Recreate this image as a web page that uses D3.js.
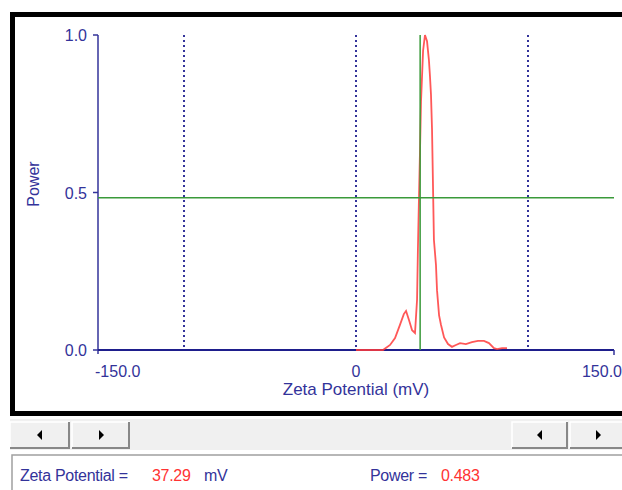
<!DOCTYPE html>
<html>
<head>
<meta charset="utf-8">
<script src="https://cdn.jsdelivr.net/npm/d3@7"></script>
<style>
  body { margin: 0; background: #fff; font-family: "Liberation Sans", Arial, sans-serif; }
  svg { display: block; }
</style>
</head>
<body>
<div id="plot"></div>
<script>
// zeta potential distribution (mV vs relative power)
var zetaMv = [0, 15.7, 19.8, 22.7, 25.5, 27.8, 29.1, 30.8, 32.6, 34.3, 35.5, 36.0, 36.6, 37.2, 37.8, 39.0, 40.1, 41.3, 42.4, 43.0, 43.6, 44.2, 44.8, 45.3, 46.5, 47.1, 48.3, 49.4, 51.2, 53.5, 55.8, 58.1, 60.5, 63.9, 67.4, 70.9, 74.4, 77.3, 80.2, 82.0, 84.9, 87.8];
var power = [0, 0, 0.016, 0.038, 0.079, 0.114, 0.124, 0.095, 0.063, 0.054, 0.16, 0.32, 0.48, 0.63, 0.79, 0.95, 1.0, 0.98, 0.92, 0.87, 0.81, 0.70, 0.51, 0.35, 0.27, 0.19, 0.11, 0.08, 0.04, 0.019, 0.01, 0.016, 0.022, 0.019, 0.025, 0.029, 0.029, 0.022, 0.006, 0.003, 0.006, 0.006];

var xTicks = [-150, 0, 150];
var xTickLabels = ["-150.0", "0", "150.0"];
var yTicks = [0, 0.5, 1.0];
var yTickLabels = ["0.0", "0.5", "1.0"];
var gridX = [-100, 0, 100];

var cursorMv = 37.29;
var cursorPower = 0.483;

var navy = "#33339a";
var W = 622, H = 490;

var svg = d3.select("#plot").append("svg")
  .attr("width", W)
  .attr("height", H);

// outer frame
svg.append("rect")
  .attr("x", 12.5).attr("y", 14.5)
  .attr("width", 620).attr("height", 399)
  .attr("fill", "#fff")
  .attr("stroke", "#000")
  .attr("stroke-width", 5);

var x = d3.scaleLinear().domain([-150, 150]).range([98, 614]);
var y = d3.scaleLinear().domain([0, 1]).range([350, 35]);

// dotted grid
svg.selectAll(".grid")
  .data(gridX)
  .join("line")
  .attr("class", "grid")
  .attr("x1", d => x(d)).attr("x2", d => x(d))
  .attr("y1", y(1)).attr("y2", y(0))
  .attr("stroke", navy)
  .attr("stroke-width", 2)
  .attr("stroke-dasharray", "2,3");

// axes
svg.append("line")
  .attr("x1", x(-150)).attr("x2", x(-150))
  .attr("y1", y(1)).attr("y2", y(0) + 4)
  .attr("stroke", navy).attr("stroke-width", 1.5);
svg.append("line")
  .attr("x1", x(-150)).attr("x2", x(150))
  .attr("y1", y(0)).attr("y2", y(0))
  .attr("stroke", "#1e1e8c").attr("stroke-width", 2);

svg.selectAll(".ytick")
  .data(yTicks)
  .join("line")
  .attr("class", "ytick")
  .attr("x1", x(-150) - 5).attr("x2", x(-150))
  .attr("y1", d => y(d)).attr("y2", d => y(d))
  .attr("stroke", navy).attr("stroke-width", 1.5);

svg.append("line")
  .attr("x1", x(150)).attr("x2", x(150))
  .attr("y1", y(0)).attr("y2", y(0) + 5)
  .attr("stroke", navy).attr("stroke-width", 1.5);

svg.selectAll(".ylab")
  .data(yTicks)
  .join("text")
  .attr("class", "ylab")
  .attr("x", x(-150) - 11)
  .attr("y", d => y(d) + 6)
  .attr("text-anchor", "end")
  .attr("font-size", 16)
  .attr("fill", navy)
  .text((d, i) => yTickLabels[i]);

svg.selectAll(".xlab")
  .data(xTicks)
  .join("text")
  .attr("class", "xlab")
  .attr("x", (d, i) => i == 0 ? x(d) - 3 : (i == 2 ? x(d) + 8 : x(d)))
  .attr("y", 377)
  .attr("text-anchor", (d, i) => i == 0 ? "start" : (i == 2 ? "end" : "middle"))
  .attr("font-size", 16)
  .attr("fill", navy)
  .text((d, i) => xTickLabels[i]);

svg.append("text")
  .attr("x", x(0))
  .attr("y", 395)
  .attr("text-anchor", "middle")
  .attr("font-size", 17)
  .attr("fill", navy)
  .text("Zeta Potential (mV)");

svg.append("text")
  .attr("transform", "translate(39,184) rotate(-90)")
  .attr("text-anchor", "middle")
  .attr("font-size", 16)
  .attr("fill", navy)
  .text("Power");

// curve
var line = d3.line()
  .x((d, i) => x(zetaMv[i]))
  .y(d => y(d));

svg.append("path")
  .datum(power)
  .attr("d", line)
  .attr("fill", "none")
  .attr("stroke", "#ff3b3b")
  .attr("stroke-opacity", 0.85)
  .attr("stroke-width", 1.8);

// cursor cross
svg.append("line")
  .attr("x1", x(cursorMv)).attr("x2", x(cursorMv))
  .attr("y1", y(1)).attr("y2", y(0))
  .attr("stroke", "#3a9a3a").attr("stroke-width", 1.5);
svg.append("line")
  .attr("x1", x(-150)).attr("x2", x(150))
  .attr("y1", y(cursorPower)).attr("y2", y(cursorPower))
  .attr("stroke", "#3a9a3a").attr("stroke-width", 1.5);

// scroll bar row
svg.append("rect")
  .attr("x", 10).attr("y", 419)
  .attr("width", 612).attr("height", 31)
  .attr("fill", "#f0f0f0");

var buttons = [
  {x: 10, w: 60, dir: -1},
  {x: 72, w: 58, dir: 1},
  {x: 512, w: 56, dir: -1},
  {x: 570, w: 56, dir: 1}
];
var btn = svg.selectAll(".btn")
  .data(buttons)
  .join("g")
  .attr("class", "btn")
  .attr("transform", d => `translate(${d.x},422)`);
btn.append("rect")
  .attr("width", d => d.w).attr("height", 26)
  .attr("fill", "#f0f0f0");
btn.append("path")
  .attr("d", d => `M0,26 V0 H${d.w}`)
  .attr("fill", "none").attr("stroke", "#ffffff").attr("stroke-width", 1.5);
btn.append("path")
  .attr("d", d => `M0,26 H${d.w - 1} V0`)
  .attr("fill", "none").attr("stroke", "#888").attr("stroke-width", 2);
btn.append("path")
  .attr("d", d => d.dir < 0
    ? `M${d.w / 2 - 3},13 l5,-5 v10 z`
    : `M${d.w / 2 + 3},13 l-5,-5 v10 z`)
  .attr("fill", "#000");

// status box
svg.append("rect")
  .attr("x", 12).attr("y", 455)
  .attr("width", 612).attr("height", 40)
  .attr("fill", "#fff")
  .attr("stroke", "#a0a0a0")
  .attr("stroke-width", 1.5);

var statusText = svg.append("text")
  .attr("y", 481)
  .attr("font-size", 16)
  .attr("letter-spacing", "-0.3");
statusText.append("tspan").attr("x", 20).attr("fill", navy).text("Zeta Potential =");
statusText.append("tspan").attr("x", 152).attr("fill", "#ff3333").text(cursorMv.toFixed(2));
statusText.append("tspan").attr("x", 204).attr("fill", navy).text("mV");
statusText.append("tspan").attr("x", 370).attr("fill", navy).text("Power =");
statusText.append("tspan").attr("x", 441).attr("fill", "#ff3333").text(cursorPower.toFixed(3));
</script>
</body>
</html>
